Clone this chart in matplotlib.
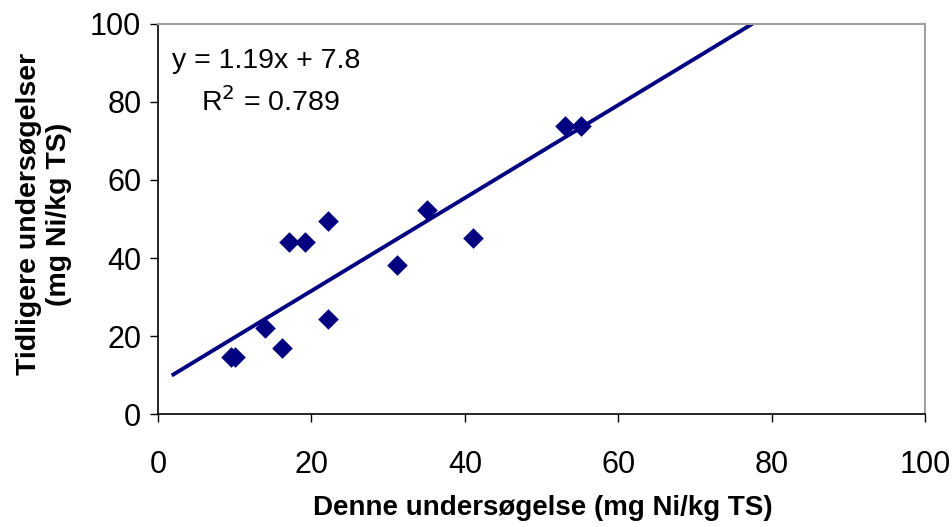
import matplotlib
matplotlib.use("Agg")
import matplotlib.pyplot as plt
import numpy as np

plt.rcParams['font.family'] = ['Liberation Sans', 'DejaVu Sans']

# Ni content: this study vs. earlier studies (mg Ni/kg TS)
denne = [9.5, 10.0, 14.0, 16.1, 17.1, 19.1, 22.1, 22.1, 31.1, 35.0, 41.0, 53.1, 55.1]
tidligere = [14.6, 14.6, 22.2, 16.9, 44.0, 44.0, 49.4, 24.3, 38.1, 52.2, 45.0, 73.9, 73.9]

# linear trendline as reported
slope = 1.19
intercept = 7.8
r2 = 0.789
trend_x = [2.0, 90.0]

navy = '#000080'

fig = plt.figure(figsize=(9.52, 5.27), dpi=100)
ax = fig.add_axes([0.166, 0.214, 0.806, 0.741])

tx = np.array(trend_x)
ax.plot(tx, slope * tx + intercept, color=navy, lw=2.8, zorder=2)
ax.scatter(denne, tidligere, marker='D', s=110, color=navy, linewidths=0, zorder=3)

ax.set_xlim(0, 100)
ax.set_ylim(0, 100)
ax.set_xticks(range(0, 101, 20))
ax.set_yticks(range(0, 101, 20))
ax.tick_params(direction='out', length=6, width=1, labelsize=22, pad=20)
ax.tick_params(axis='y', pad=6)

for side in ['left', 'bottom']:
    ax.spines[side].set_color('black')
    ax.spines[side].set_linewidth(1.2)
for side in ['top', 'right']:
    ax.spines[side].set_color('#a0a0a0')
    ax.spines[side].set_linewidth(1.5)

ax.set_xlabel('Denne undersøgelse (mg Ni/kg TS)', fontsize=20, fontweight='bold',
              va='center')
ax.xaxis.set_label_coords(0.501, -0.241)
ax.set_ylabel('Tidligere undersøgelser\n(mg Ni/kg TS)', fontsize=20.5, fontweight='bold',
              linespacing=1.2, va='center', ha='center')
ax.yaxis.set_label_coords(-0.149, 0.513)

ax.text(0.018, 0.905, f'y = {slope}x + {intercept}', transform=ax.transAxes, fontsize=20.5, va='center')
ax.text(0.056, 0.80, f'R$^2$ = {r2}', transform=ax.transAxes, fontsize=20.5, va='center')

fig.savefig('out.png', dpi=100)
